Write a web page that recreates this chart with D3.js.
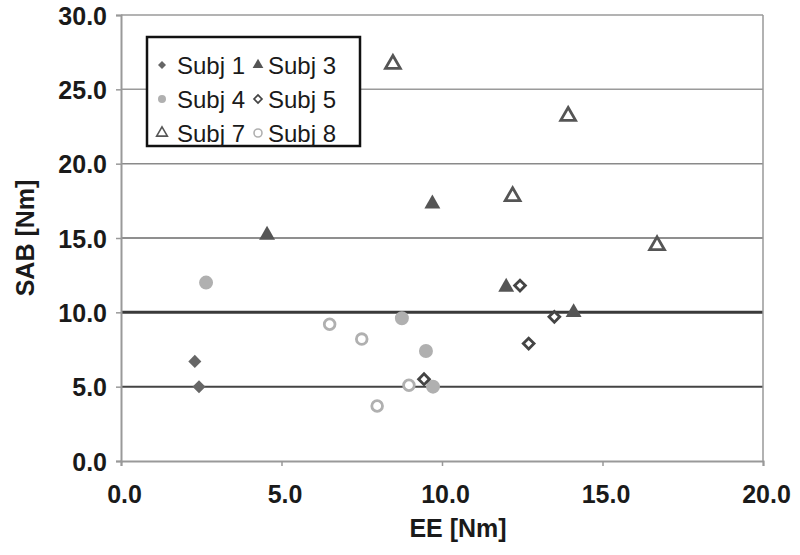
<!DOCTYPE html>
<html>
<head>
<meta charset="utf-8">
<script src="https://cdn.jsdelivr.net/npm/d3@7"></script>
<style>
  body { margin: 0; background: #fff; }
  text { font-family: Arial, "Liberation Sans", sans-serif; }
</style>
</head>
<body>
<script>
// data: EE [Nm] (x) and SAB [Nm] (y)
var subj1 = [[2.3, 6.7], [2.43, 5.0]];
var subj3 = [[4.55, 15.2], [9.7, 17.3], [12.0, 11.7], [14.1, 10.0]];
var subj4 = [[2.65, 12.0], [8.75, 9.6], [9.5, 7.4], [9.72, 5.0]];
var subj5 = [[12.43, 11.8], [13.5, 9.7], [12.7, 7.9], [9.44, 5.5]];
var subj7 = [[8.47, 26.7], [12.2, 17.8], [13.93, 23.2], [16.7, 14.5]];
var subj8 = [[6.5, 9.2], [7.5, 8.2], [7.98, 3.7], [8.97, 5.1]];
var xTicks = [0, 5, 10, 15, 20];
var yTicks = [0, 5, 10, 15, 20, 25, 30];

var series = [
  {name: "Subj 1", data: subj1, shape: "diamond", size: 85, fill: "#666", stroke: "none"},
  {name: "Subj 3", data: subj3, shape: "triangle", size: 110, fill: "#555", stroke: "none"},
  {name: "Subj 4", data: subj4, shape: "circle", size: 154, fill: "#b0b0b0", stroke: "none"},
  {name: "Subj 5", data: subj5, shape: "diamond", size: 58, fill: "#fff", stroke: "#444"},
  {name: "Subj 7", data: subj7, shape: "triangle", size: 95, fill: "#fff", stroke: "#555"},
  {name: "Subj 8", data: subj8, shape: "circle", size: 90, fill: "#fff", stroke: "#b0b0b0"}
];

// diamonds are squares turned 45 degrees
function symbolPath(shape, size){
    var type = shape == "circle" ? d3.symbolCircle : shape == "triangle" ? d3.symbolTriangle : d3.symbolSquare;
    return d3.symbol().type(type).size(size)();
}
function turn(shape){ return shape == "diamond" ? " rotate(45)" : ""; }

var w = 800, h = 555;
var svg = d3.select("body").append("svg")
    .attr("width", w)
    .attr("height", h);

var x = d3.scaleLinear().domain([0, 20]).range([121, 763]);
var y = d3.scaleLinear().domain([0, 30]).range([461, 15]);

// horizontal grid lines
var gridColor = {5: "#444", 10: "#3a3a3a", 15: "#6a6a6a", 20: "#8a8a8a", 25: "#9a9a9a", 30: "#9a9a9a"};
svg.selectAll(".grid")
    .data(yTicks.filter(function(d){ return d > 0; }))
    .enter()
    .append("line")
    .attr("class", "grid")
    .attr("x1", x(0)).attr("x2", x(20))
    .attr("y1", function(d){ return y(d); })
    .attr("y2", function(d){ return y(d); })
    .style("stroke", function(d){ return gridColor[d]; })
    .style("stroke-width", function(d){ return d == 10 ? 3 : d == 5 ? 2 : 1.5; });

// right border of plot area
svg.append("line")
    .attr("x1", x(20)).attr("x2", x(20))
    .attr("y1", y(0)).attr("y2", y(30))
    .style("stroke", "#999").style("stroke-width", 1.5);

var xAxis = d3.axisBottom(x).tickValues(xTicks).tickSize(5).tickFormat(d3.format(".1f"));
var yAxis = d3.axisLeft(y).tickValues(yTicks).tickSize(5).tickFormat(d3.format(".1f"));

var gx = svg.append("g")
    .attr("transform", "translate(0," + y(0) + ")")
    .call(xAxis);
var gy = svg.append("g")
    .attr("transform", "translate(" + x(0) + ",0)")
    .call(yAxis);

[gx, gy].forEach(function(g){
    g.select(".domain").style("stroke", "#999").style("stroke-width", 2);
    g.selectAll(".tick line").style("stroke", "#999").style("stroke-width", 1.5);
    g.selectAll(".tick text")
        .style("font-size", "25px")
        .style("font-weight", "bold")
        .style("fill", "#1a1a1a");
});
gx.selectAll(".tick text").attr("y", 42).attr("dy", 0).attr("x", 3);
gy.selectAll(".tick text").attr("x", -14).attr("dy", "0.36em");

// axis titles
svg.append("text")
    .attr("x", 458).attr("y", 537)
    .attr("text-anchor", "middle")
    .style("font-size", "25px").style("font-weight", "bold").style("fill", "#1a1a1a")
    .text("EE [Nm]");

svg.append("text")
    .attr("transform", "translate(34,238) rotate(-90)")
    .attr("text-anchor", "middle")
    .style("font-size", "25px").style("font-weight", "bold").style("fill", "#1a1a1a")
    .text("SAB [Nm]");

// points
series.forEach(function(s){
    svg.selectAll(null)
        .data(s.data)
        .enter()
        .append("path")
        .attr("d", symbolPath(s.shape, s.size))
        .attr("transform", function(d){ return "translate(" + x(d[0]) + "," + y(d[1]) + ")" + turn(s.shape); })
        .style("fill", s.fill)
        .style("stroke", s.stroke)
        .style("stroke-width", 2.8);
});

// legend
var legend = svg.append("g");
legend.append("rect")
    .attr("x", 147).attr("y", 37)
    .attr("width", 213).attr("height", 109)
    .style("fill", "#fff")
    .style("stroke", "#111")
    .style("stroke-width", 2.5);

var items = legend.selectAll(".item")
    .data(series)
    .enter()
    .append("g")
    .attr("class", "item")
    .attr("transform", function(d, i){
        return "translate(" + (i % 2 == 0 ? 162 : 258) + "," + [65, 99, 133][Math.floor(i / 2)] + ")";
    });

items.append("path")
    .attr("d", function(d){ return symbolPath(d.shape, d.shape == "circle" ? 50 : d.shape == "triangle" ? 50 : 32); })
    .attr("transform", function(d){ return turn(d.shape); })
    .style("fill", function(d){ return d.fill; })
    .style("stroke", function(d){ return d.stroke; })
    .style("stroke-width", 1.6);

items.append("text")
    .attr("x", function(d, i){ return i % 2 == 0 ? 15 : 10; })
    .attr("dy", "0.36em")
    .style("font-size", "24px")
    .style("fill", "#1a1a1a")
    .text(function(d){ return d.name; });
</script>
</body>
</html>
